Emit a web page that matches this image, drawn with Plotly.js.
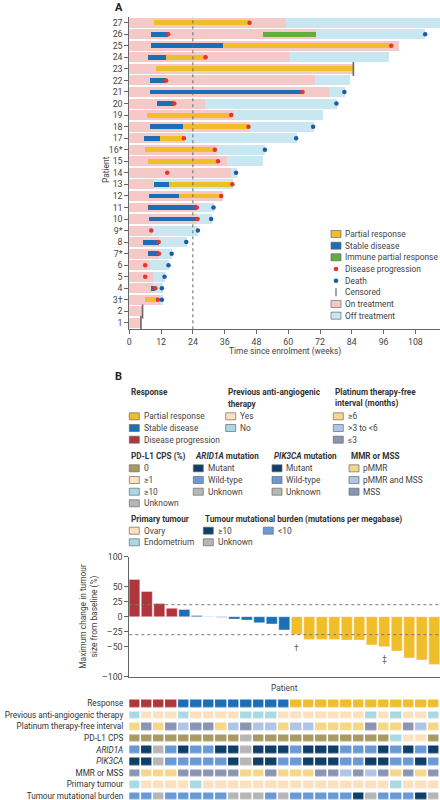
<!DOCTYPE html>
<html>
<head>
<meta charset="utf-8">
<script src="https://cdn.plot.ly/plotly-3.0.1.min.js"></script>
<style>html,body{margin:0;padding:0;background:#fff;} #chart{width:440px;height:800px;}</style>
</head>
<body>
<div id="chart"></div>
<script>
// ---------------- Panel A data (patients 1..27) ----------------
const patients = [1,2,3,4,5,6,7,8,9,10,11,12,13,14,15,16,17,18,19,20,21,22,23,24,25,26,27];
const patientLabels = ['1','2','3†','4','5','6','7*','8','9*','10','11','12','13','14','15','16*','17','18','19','20','21','22','23','24','25','26','27'];
const onTreatmentEnd = [4.4,5.0,11.5,8.8,8.8,7.9,11.3,11.1,8.5,25.6,25.4,35.3,9.2,38.3,36.7,33.2,21.0,45.1,39.5,28.4,75.4,70.0,84.6,60.7,101.8,70.5,59.1];
const followUpEnd    = [4.4,5.0,12.6,12.6,13.6,15.1,16.3,21.8,25.9,31.1,31.9,35.3,39.0,40.5,50.4,51.3,63.3,69.6,73.0,78.3,81.4,83.3,84.6,98.0,101.8,111.7,118.0];
const stableStart    = [null,null,null,8.3,null,null,7.0,5.0,null,7.6,7.1,7.5,9.3,null,null,null,5.4,8.0,null,10.5,8.0,7.7,null,7.1,8.2,8.3,null];
const stableEnd      = [null,null,null,9.8,null,null,11.2,11.1,null,25.8,25.4,18.7,14.9,null,null,null,11.4,20.2,null,17.0,65.4,13.9,null,13.9,35.5,14.7,null];
const partialStart   = [null,null,6.0,null,null,null,null,null,null,null,null,18.7,14.9,null,7.1,5.8,11.4,20.2,6.7,null,null,null,10.2,13.9,35.5,null,9.2];
const partialEnd     = [null,null,10.8,null,null,null,null,null,null,null,null,34.7,38.9,null,33.5,32.3,20.6,45.0,38.5,null,null,null,84.6,28.8,98.9,null,45.4];
const immuneStart    = [null,null,null,null,null,null,null,null,null,null,null,null,null,null,null,null,null,null,null,null,null,null,null,null,null,50.5,null];
const immuneEnd      = [null,null,null,null,null,null,null,null,null,null,null,null,null,null,null,null,null,null,null,null,null,null,null,null,null,70.5,null];
const progression    = [null,null,10.8,9.8,6.0,6.0,11.2,11.1,8.3,25.8,25.5,34.7,38.9,14.3,33.5,32.3,20.6,45.0,38.5,17.0,65.4,13.9,null,28.8,98.9,14.7,45.4];
const death          = [null,null,12.3,12.3,13.3,14.8,16.0,21.5,25.9,30.9,31.8,null,null,40.3,null,51.2,63.0,69.4,null,78.2,81.2,null,null,null,null,111.7,null];
const censored       = [4.4,5.0,null,null,null,null,null,null,null,null,null,null,null,null,null,null,null,null,null,null,null,null,84.6,null,null,null,null];
const weekTicks = [0,12,24,36,48,60,72,84,96,108];

// ---------------- Panel B data (25 patients, waterfall order) ----------------
const waterfallPatients = [1,2,3,4,5,6,7,8,9,10,11,12,13,14,15,16,17,18,19,20,21,22,23,24,25];
const maxChange = [62,42,22,14,12,2,0.5,-1,-4,-5.5,-10,-12,-22,-29.5,-38,-38,-38,-39,-39,-47,-50,-57,-69,-72,-79.5];
const response  = ['PD','PD','PD','PD','SD','SD','SD','SD','SD','SD','SD','SD','SD','PR','PR','PR','PR','PR','PR','PR','PR','PR','PR','PR','PR'];
const prevAntiAngio = ['No','Yes','Yes','Yes','No','Yes','Yes','Yes','Yes','No','No','No','Yes','Yes','Yes','Yes','Yes','Yes','Yes','No','Yes','No','Yes','Yes','No'];
const platinumTFI   = ['>=6','<=3','>=6','<=3','3-6','<=3','<=3','>=6','3-6','<=3','3-6','3-6','>=6','3-6','3-6','>=6','>=6','>=6','>=6','<=3','>=6','>=6','<=3','3-6','>=6'];
const pdl1CPS       = ['0','0','0','0','0','0','0','0','0','U','0','0','0','0','0','0','0','0','0','0','0','>=10','>=1','>=1','0'];
const arid1a        = ['W','M','U','W','M','W','W','M','M','U','M','M','M','W','M','M','M','W','W','W','M','W','M','W','M'];
const pik3ca        = ['M','M','U','W','W','W','W','W','M','U','M','M','W','W','M','M','M','W','W','M','M','W','W','M','W'];
const mmrMss        = ['MSS','pMMR','pMMR','pMMR','MSS','MSS','MSS','MSS','MSS','pMMR','pMMR','MSS','pMMR','pMMR','pMMR','MSS','MSS','both','MSS','both','MSS','pMMR','MSS','pMMR','MSS'];
const primaryTumour = ['Endo','Ovary','Ovary','Ovary','Ovary','Endo','Ovary','Ovary','Ovary','Ovary','Ovary','Ovary','Ovary','Ovary','Ovary','Ovary','Ovary','Ovary','Ovary','Ovary','Ovary','Endo','Ovary','Ovary','Ovary'];
const tmb           = ['lo','lo','U','lo','lo','lo','lo','lo','U','U','U','lo','U','lo','lo','lo','lo','lo','hi','U','lo','lo','lo','hi','U'];
const heatRowLabels = ['Response','Previous anti-angiogenic therapy','Platinum therapy-free interval','PD-L1 CPS','<i>ARID1A</i>','<i>PIK3CA</i>','MMR or MSS','Primary tumour','Tumour mutational burden'];

// ---------------- colours ----------------
const C = {
  pd:'#b1363c', sd:'#1b6fb6', pr:'#f1be2b', ipr:'#62ad3b',
  peach:'#fde1bf', cyan:'#a9d9e4', ltYellow:'#f5d787', ltBlue:'#b0c5e6', greyBlue:'#8b95b3',
  olive:'#a89a62', grey:'#b6b6b6', navy:'#0f3f68', midBlue:'#6a9ad5',
  onT:'#f6c9c9', offT:'#c8e7f0', prog:'#e5352d', death:'#1d5ca0'
};
const respColor = {PD:C.pd, SD:C.sd, PR:C.pr};
const palette = [C.pd,C.sd,C.pr,C.peach,C.cyan,C.ltYellow,C.ltBlue,C.greyBlue,C.olive,C.grey,C.navy,C.midBlue];
const idx = c => palette.indexOf(c);
const maps = [
  [response,{PD:C.pd,SD:C.sd,PR:C.pr}],
  [prevAntiAngio,{Yes:C.peach,No:C.cyan}],
  [platinumTFI,{'>=6':C.ltYellow,'3-6':C.ltBlue,'<=3':C.greyBlue}],
  [pdl1CPS,{'0':C.olive,'>=1':C.peach,'>=10':C.cyan,'U':C.grey}],
  [arid1a,{M:C.navy,W:C.midBlue,U:C.grey}],
  [pik3ca,{M:C.navy,W:C.midBlue,U:C.grey}],
  [mmrMss,{pMMR:C.ltYellow,both:C.ltBlue,MSS:C.greyBlue}],
  [primaryTumour,{Ovary:C.peach,Endo:C.cyan}],
  [tmb,{hi:C.navy,lo:C.midBlue,U:C.grey}]
];
const zMatrix = maps.map(([arr,m]) => arr.map(v => idx(m[v])));
const N = palette.length;
const colorscale = [];
palette.forEach((c,k)=>{colorscale.push([k/N,c]);colorscale.push([(k+1)/N,c]);});

// ---------------- helpers ----------------
const W = 440, H = 800;
const X = px => px/W, Y = py => 1 - py/H;
const FONT = "Roboto, 'Liberation Sans', sans-serif";
const TXT = '#444';
const FS = 8.4;      // regular text
const FSB = 8.2;     // bold legend titles
const seg = (s,e) => s.map((v,i)=> (v===null||e[i]===null) ? null : +(e[i]-v).toFixed(2));

// ---------------- traces ----------------
const traces = [];
traces.push({type:'bar',orientation:'h',y:patients,x:followUpEnd,base:0,width:0.86,marker:{color:C.offT},hoverinfo:'skip',xaxis:'x',yaxis:'y'});
traces.push({type:'bar',orientation:'h',y:patients,x:onTreatmentEnd,base:0,width:0.86,marker:{color:C.onT},hoverinfo:'skip',xaxis:'x',yaxis:'y'});
traces.push({type:'bar',orientation:'h',y:patients,x:seg(stableStart,stableEnd),base:stableStart,width:0.42,marker:{color:C.sd},xaxis:'x',yaxis:'y'});
traces.push({type:'bar',orientation:'h',y:patients,x:seg(partialStart,partialEnd),base:partialStart,width:0.42,marker:{color:C.pr},xaxis:'x',yaxis:'y'});
traces.push({type:'bar',orientation:'h',y:patients,x:seg(immuneStart,immuneEnd),base:immuneStart,width:0.42,marker:{color:C.ipr},xaxis:'x',yaxis:'y'});
traces.push({type:'scatter',mode:'markers',x:progression,y:patients,marker:{color:C.prog,size:4.5},xaxis:'x',yaxis:'y'});
traces.push({type:'scatter',mode:'markers',x:death,y:patients,marker:{color:C.death,size:4.5},xaxis:'x',yaxis:'y'});
traces.push({type:'scatter',mode:'markers',x:censored,y:patients,marker:{symbol:'line-ns',size:10,color:'#666',line:{width:1.6,color:'#666'}},xaxis:'x',yaxis:'y'});
traces.push({type:'bar',x:waterfallPatients,y:maxChange,width:0.88,marker:{color:response.map(r=>respColor[r]),line:{color:'rgba(255,255,255,0.6)',width:0.6}},xaxis:'x2',yaxis:'y2'});
traces.push({type:'heatmap',x:waterfallPatients,y:[0,1,2,3,4,5,6,7,8],z:zMatrix,zmin:-0.5,zmax:N-0.5,colorscale:colorscale,showscale:false,xgap:1.6,ygap:4.2,hoverinfo:'skip',xaxis:'x3',yaxis:'y3'});

// ---------------- legends (swatches + text) ----------------
const shapes = [];
const ann = [];
function label(x,y,text){
  ann.push({xref:'paper',yref:'paper',x:X(x),y:Y(y),xanchor:'left',yanchor:'middle',text:text,showarrow:false,font:{family:FONT,size:FS,color:TXT}});
}
function swatch(x,y,color,text){
  shapes.push({type:'rect',xref:'paper',yref:'paper',x0:X(x),x1:X(x+10),y0:Y(y+3.5),y1:Y(y-3.5),fillcolor:color,line:{color:'#6b6b6b',width:0.7}});
  label(x+12.3,y,text);
}
function title(x,y,text){
  ann.push({xref:'paper',yref:'paper',x:X(x),y:Y(y),xanchor:'left',yanchor:'middle',text:'<b>'+text+'</b>',showarrow:false,font:{family:FONT,size:FSB,color:'#333'}});
}
// Panel A legend
const la = 331, laT = [234,245.7,257.3,269,280.7,292.3,304,315.7];
swatch(la,laT[0],C.pr,'Partial response');
swatch(la,laT[1],C.sd,'Stable disease');
swatch(la,laT[2],C.ipr,'Immune partial response');
shapes.push({type:'circle',xref:'paper',yref:'paper',x0:X(la+2.7),x1:X(la+7.3),y0:Y(laT[3]+2.3),y1:Y(laT[3]-2.3),fillcolor:C.prog,line:{width:0}});
label(la+12.3,laT[3],'Disease progression');
shapes.push({type:'circle',xref:'paper',yref:'paper',x0:X(la+2.7),x1:X(la+7.3),y0:Y(laT[4]+2.3),y1:Y(laT[4]-2.3),fillcolor:C.death,line:{width:0}});
label(la+12.3,laT[4],'Death');
shapes.push({type:'line',xref:'paper',yref:'paper',x0:X(la+5),x1:X(la+5),y0:Y(laT[5]+4),y1:Y(laT[5]-4),line:{color:'#666',width:1.2}});
label(la+12.3,laT[5],'Censored');
swatch(la,laT[6],C.onT,'On treatment');
swatch(la,laT[7],C.offT,'Off treatment');

// Panel B legends
title(129.3,392.3,'Response');
swatch(129.3,416.3,C.pr,'Partial response');
swatch(129.3,428,C.sd,'Stable disease');
swatch(129.3,439.7,C.pd,'Disease progression');
title(225.7,392.3,'Previous anti-angiogenic');
title(225.7,403.7,'therapy');
swatch(225.7,416.3,C.peach,'Yes');
swatch(225.7,428,C.cyan,'No');
title(333.3,392.3,'Platinum therapy-free');
title(333.3,403.7,'interval (months)');
swatch(333.3,416.3,C.ltYellow,'≥6');
swatch(333.3,428,C.ltBlue,'>3 to <6');
swatch(333.3,439.7,C.greyBlue,'≤3');
const r2 = [468.3,480,491.7,503.3];
title(129.3,456.3,'PD-L1 CPS (%)');
swatch(129.3,r2[0],C.olive,'0');
swatch(129.3,r2[1],C.peach,'≥1');
swatch(129.3,r2[2],C.cyan,'≥10');
swatch(129.3,r2[3],C.grey,'Unknown');
title(193.3,456.3,'<i>ARID1A</i> mutation');
swatch(193.3,r2[0],C.navy,'Mutant');
swatch(193.3,r2[1],C.midBlue,'Wild-type');
swatch(193.3,r2[2],C.grey,'Unknown');
title(272,456.3,'<i>PIK3CA</i> mutation');
swatch(272,r2[0],C.navy,'Mutant');
swatch(272,r2[1],C.midBlue,'Wild-type');
swatch(272,r2[2],C.grey,'Unknown');
title(349,456.3,'MMR or MSS');
swatch(349,r2[0],C.ltYellow,'pMMR');
swatch(349,r2[1],C.ltBlue,'pMMR and MSS');
swatch(349,r2[2],C.greyBlue,'MSS');
title(129.3,519,'Primary tumour');
swatch(129.3,530.7,C.peach,'Ovary');
swatch(129.3,542.3,C.cyan,'Endometrium');
title(203.3,519,'Tumour mutational burden (mutations per megabase)');
swatch(203.3,530.7,C.navy,'≥10');
swatch(263.3,530.7,C.midBlue,'<10');
swatch(203.3,542.3,C.grey,'Unknown');

// panel labels & axis titles
ann.push({xref:'paper',yref:'paper',x:X(113),y:Y(7),xanchor:'left',yanchor:'middle',text:'<b>A</b>',showarrow:false,font:{family:FONT,size:11,color:'#222'}});
ann.push({xref:'paper',yref:'paper',x:X(113),y:Y(377),xanchor:'left',yanchor:'middle',text:'<b>B</b>',showarrow:false,font:{family:FONT,size:11,color:'#222'}});
ann.push({xref:'paper',yref:'paper',x:X(106),y:Y(170),textangle:-90,xanchor:'center',yanchor:'middle',text:'Patient',showarrow:false,font:{family:FONT,size:FS,color:TXT}});
ann.push({xref:'paper',yref:'paper',x:X(284.7),y:Y(351.5),xanchor:'center',yanchor:'middle',text:'Time since enrolment (weeks)',showarrow:false,font:{family:FONT,size:FS,color:TXT}});
ann.push({xref:'paper',yref:'paper',x:X(284.7),y:Y(687.5),xanchor:'center',yanchor:'middle',text:'Patient',showarrow:false,font:{family:FONT,size:FS,color:TXT}});
ann.push({xref:'paper',yref:'paper',x:X(89),y:Y(616.7),textangle:-90,xanchor:'center',yanchor:'middle',text:'Maximum change in tumour<br>size from baseline (%)',showarrow:false,font:{family:FONT,size:FS,color:TXT}});
ann.push({xref:'x2',yref:'y2',x:14,y:-40,yanchor:'top',text:'†',showarrow:false,font:{family:FONT,size:8.5,color:'#666'}});
ann.push({xref:'x2',yref:'y2',x:21,y:-58,yanchor:'top',text:'‡',showarrow:false,font:{family:FONT,size:8.5,color:'#666'}});

// reference lines
shapes.push({type:'line',xref:'x',yref:'y',x0:24,x1:24,y0:0.45,y1:27.52,line:{color:'#666',width:1,dash:'dot'},layer:'above'});
shapes.push({type:'line',xref:'paper',yref:'y2',x0:X(129.3),x1:1,y0:20,y1:20,line:{color:'#777',width:1,dash:'dot'},layer:'above'});
shapes.push({type:'line',xref:'paper',yref:'y2',x0:X(129.3),x1:1,y0:-30,y1:-30,line:{color:'#777',width:1,dash:'dot'},layer:'above'});

const axCommon = {showgrid:false,zeroline:false,showline:true,linecolor:'#666',linewidth:1,ticks:'outside',ticklen:4,tickwidth:1,tickcolor:'#666',tickfont:{family:FONT,size:8.8,color:TXT},fixedrange:true};

const layout = {
  width:W,height:H,margin:{l:0,r:0,t:0,b:0},paper_bgcolor:'#fff',plot_bgcolor:'rgba(0,0,0,0)',
  showlegend:false,barmode:'overlay',bargap:0,
  font:{family:FONT,size:FS,color:TXT},
  xaxis:Object.assign({},axCommon,{domain:[X(129.3),1],range:[0,117.3],tickvals:weekTicks,anchor:'y'}),
  yaxis:Object.assign({},axCommon,{domain:[Y(329.3),Y(16.7)],range:[0.45,27.52],tickvals:patients,ticktext:patientLabels,anchor:'x'}),
  xaxis2:Object.assign({},axCommon,{domain:[X(129.3),1],range:[0.6,25.46],ticks:'',showticklabels:false,anchor:'y2'}),
  yaxis2:Object.assign({},axCommon,{domain:[Y(676.7),Y(556.7)],range:[-100,100],tickvals:[100,50,25,0,-25,-50,-100],ticktext:['100','50','25','0','–25','–50','–100'],anchor:'x2'}),
  xaxis3:{domain:[X(129.3),1],range:[0.6,25.46],showgrid:false,zeroline:false,showline:false,showticklabels:false,ticks:'',anchor:'y3',fixedrange:true},
  yaxis3:{domain:[0,Y(697.5)],range:[8.344,-0.5],showgrid:false,zeroline:false,showline:false,ticks:'',tickvals:[0,1,2,3,4,5,6,7,8],ticktext:heatRowLabels,ticklabelstandoff:5,ticklabeloverflow:'allow',tickfont:{family:FONT,size:8.2,color:'#333'},anchor:'x3',fixedrange:true},
  shapes:shapes,annotations:ann
};
Plotly.newPlot('chart',traces,layout,{displayModeBar:false,staticPlot:true});
</script>
</body>
</html>
